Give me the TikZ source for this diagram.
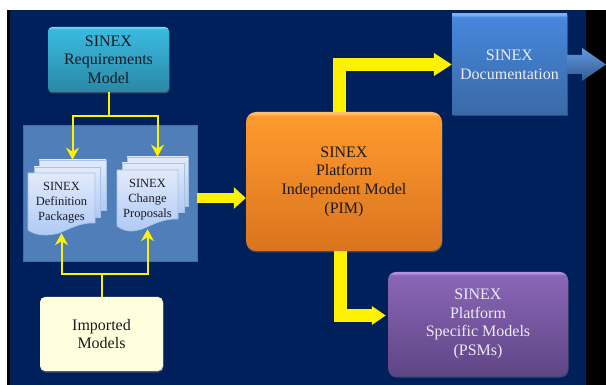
\documentclass[tikz,border=0pt]{standalone}
\usepackage{fontspec}
\setmainfont{Liberation Serif}
\usetikzlibrary{arrows.meta,shadows,calc}
\definecolor{navy}{HTML}{00205B}
\definecolor{panelblue}{HTML}{4F7EB8}
\definecolor{reqB}{HTML}{2B87A6}\definecolor{reqT}{HTML}{3ABBE0}\definecolor{reqR}{HTML}{6FD6F2}
\definecolor{pimB}{HTML}{D9741F}\definecolor{pimT}{HTML}{FF9A2E}\definecolor{pimR}{HTML}{FFC070}
\definecolor{docB}{HTML}{3A69A6}\definecolor{docT}{HTML}{4687DC}\definecolor{docR}{HTML}{7FB0EC}
\definecolor{psmB}{HTML}{5F4585}\definecolor{psmT}{HTML}{8A66B6}\definecolor{psmR}{HTML}{B792E0}
\definecolor{pageT}{HTML}{E2EAFA}\definecolor{pageB}{HTML}{AECAF6}
\definecolor{pageline}{HTML}{A9C2E4}
\definecolor{ink}{HTML}{1A1A22}
\definecolor{paleink}{HTML}{ECECF4}
\definecolor{creamfill}{HTML}{FFFFDD}
\newcommand\mkshade[4]{\pgfdeclareverticalshading{#1}{100bp}{color(0bp)=(#2); color(25bp)=(#2); color(73.5bp)=(#3); color(74.5bp)=(#4); color(100bp)=(#4)}}
\mkshade{reqshade}{reqB}{reqT}{reqR}
\mkshade{pimshade}{pimB}{pimT}{pimR}
\mkshade{docshade}{docB}{docT}{docR}
\mkshade{psmshade}{psmB}{psmT}{psmR}
\tikzset{
  box/.style={rectangle,inner sep=0pt,align=center,font=\fontsize{16}{18.7}\selectfont,text=ink,drop shadow={shadow xshift=0.5pt,shadow yshift=-1.5pt,opacity=.45}},
  sheet/.style={rectangle,inner sep=0pt,draw=pageline,line width=.7pt,top color=pageT,bottom color=pageB},
  pagetext/.style={inner sep=0pt,align=center,font=\fontsize{12.5}{14.8}\selectfont,text=ink},
  thinarrow/.style={draw=yellow,line width=2pt,-{Stealth[length=12pt,width=13pt,inset=4pt]}},
  thinline/.style={draw=yellow,line width=2pt},
  bigarrow/.style={draw=yellow,line width=13pt,miter limit=10}
}
\newcommand\frontpage[4]{% x0 y0 x1 y1
  \path[draw=pageline,line width=.7pt,top color=pageT,bottom color=pageB]
    (#1,#2) -- (#3,#2) -- (#3,#4-10) .. controls (#3-14,#4-11) and (#3-26,#4-4) .. (#3-36,#4)
    .. controls (#3-46,#4+3) and (#1+8,#4+3) .. (#1,#4-3) -- cycle;}
\begin{document}
\begin{tikzpicture}[x=1pt,y=-1pt]
\useasboundingbox (0,0) rectangle (606,385);
\fill[white] (0,0) rectangle (606,385);
\fill[black] (7,10) rectangle (606,385);
\fill[navy] (10,10) rectangle (585.5,385);

% panel
\node[rectangle,fill=panelblue,draw=panelblue!85!navy,line width=.6pt,inner sep=0pt,minimum width=174pt,minimum height=136pt] (panel) at (110,193) {};

% stacked pages, left set
\node[sheet,minimum width=67pt,minimum height=50pt] (defback) at (72.5,185) {};
\node[sheet,minimum width=66pt,minimum height=50pt] (defmid) at (67,192) {};
\frontpage{28}{173}{95}{233}
\node[pagetext,minimum width=67pt,minimum height=60pt] (defpack) at (61.5,203) {SINEX\\Definition\\Packages};

% stacked pages, right set
\node[sheet,minimum width=61pt,minimum height=49pt] (chgback) at (157.5,181.5) {};
\node[sheet,minimum width=62pt,minimum height=49pt] (chgmid) at (153,187.5) {};
\frontpage{117}{170}{178}{229}
\node[pagetext,minimum width=61pt,minimum height=59pt] (chgprop) at (147.5,199.5) {SINEX\\Change\\Proposals};

% boxes
\node[box,shade,shading=reqshade,rounded corners=4pt,minimum width=121pt,minimum height=65pt] (req) at (108.5,59.5) {SINEX\\Requirements\\Model};
\node[box,fill=creamfill,rounded corners=5pt,minimum width=123pt,minimum height=74pt] (imp) at (101.5,334) {Imported\\Models};

% yellow thin connectors
\coordinate (jtop) at (108.5,116);
\coordinate (jbot) at (101.5,274);
\draw[thinline] (req.south) -- (jtop);
\draw[thinarrow] (jtop) -| (defback.north);
\draw[thinarrow] (jtop) -| (chgback.north);
\draw[thinline] (imp.north) -- (jbot);
\draw[thinarrow] (jbot) -| (defpack.south);
\draw[thinarrow] (jbot) -| (chgprop.south);

% big boxes
\node[box,shade,shading=pimshade,rounded corners=10pt,minimum width=196pt,minimum height=139pt] (pim) at (344,181.5) {SINEX\\Platform\\Independent Model\\(PIM)};
\node[box,shade,shading=docshade,text=paleink,minimum width=115pt,minimum height=101pt] (doc) at (509.5,64.5) {SINEX\\Documentation};
\node[box,shade,shading=psmshade,text=paleink,rounded corners=8pt,minimum width=180pt,minimum height=104pt] (psm) at (478,324) {SINEX\\Platform\\Specific Models\\(PSMs)};

% big yellow arrows
\draw[bigarrow,line width=10.5pt,-{Triangle[length=12pt,width=21pt]}] ([yshift=-5pt]panel.east) -- ([yshift=-16.5pt]pim.west);
\draw[bigarrow,-{Triangle[length=18pt,width=22pt]}] ([xshift=-5pt]pim.north) |- (doc.west);
\draw[bigarrow,shorten >=2pt,-{Triangle[length=14pt,width=18pt]}] ([xshift=-3.5pt]pim.south) |- ([yshift=8.5pt]psm.west);

% documentation out-arrow
\coordinate (docout) at (606,64.5);
\shade[top color=docT!85!white,bottom color=docB!85!black]
  ([yshift=9.5pt]doc.east) -- ++(15,0) -- ++(0,-7) -- (docout) -- ++(-24,16.5) -- ++(0,-7) -- ([yshift=-9.5pt]doc.east) -- cycle;
\end{tikzpicture}
\end{document}
